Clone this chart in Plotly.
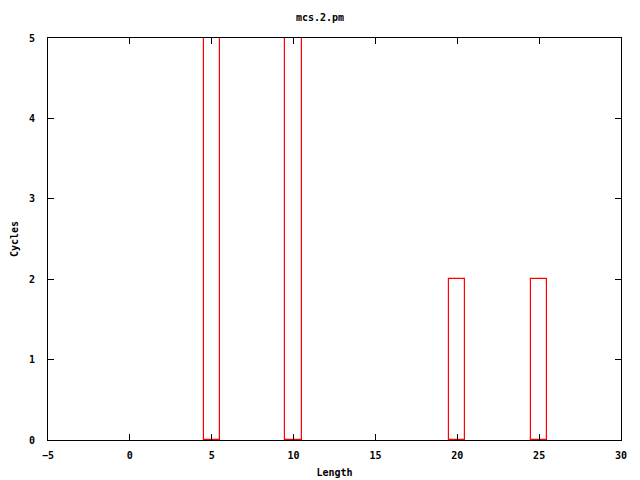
import plotly.graph_objects as go

lengths = [5, 10, 20, 25]
cycles = [5, 5, 2, 2]
bin_width = 1
x_ticks = [-5, 0, 5, 10, 15, 20, 25, 30]
y_ticks = [0, 1, 2, 3, 4, 5]

font = dict(family="DejaVu Sans Mono", size=10, color="black", weight="bold")

fig = go.Figure()
fig.add_trace(go.Bar(
    x=lengths, y=cycles, width=bin_width,
    marker=dict(color="rgba(255,255,255,0)", line=dict(color="#ff0000", width=1.2)),
    showlegend=False, hoverinfo="skip",
))

fig.update_layout(
    width=640, height=480,
    margin=dict(l=48, r=19, t=38, b=40),
    paper_bgcolor="white", plot_bgcolor="white",
    font=font, bargap=0,
    title=dict(text="mcs.2.pm", x=0.5, xanchor="center", y=0.963, yanchor="middle", font=font),
)
fig.update_xaxes(
    range=[-5, 30], tickvals=x_ticks, ticks="inside", ticklen=6, tickcolor="black",
    showline=True, linecolor="black", linewidth=1, mirror="allticks",
    showgrid=False, zeroline=False, automargin=False, layer="above traces",
    ticklabelstandoff=6,
    title=dict(text="Length", font=font, standoff=8),
)
fig.update_yaxes(
    range=[0, 5], tickvals=y_ticks, ticks="inside", ticklen=6, tickcolor="black",
    showline=True, linecolor="black", linewidth=1, mirror="allticks",
    showgrid=False, zeroline=False, automargin=False, layer="above traces",
    ticklabelstandoff=10,
    title=dict(text="Cycles", font=font, standoff=8),
)

fig.write_html("out.html", config={"displayModeBar": False},
               post_script="document.body.style.margin='0';document.body.style.padding='0';")
